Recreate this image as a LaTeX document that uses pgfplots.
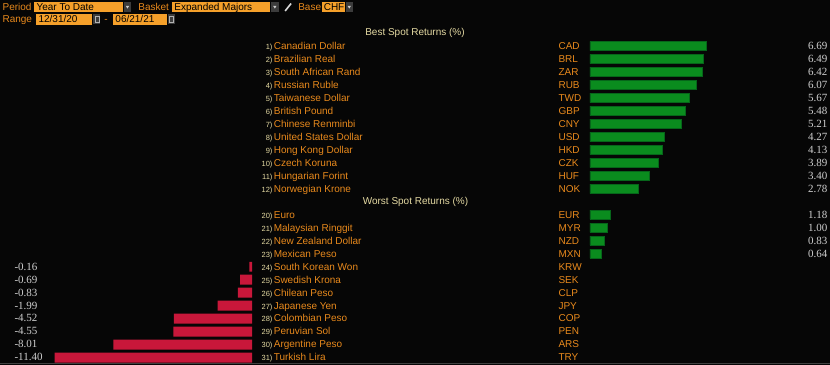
\documentclass[border=0pt]{standalone}
\usepackage{fontspec}
\setmainfont{Liberation Sans}
\newfontfamily\valfont{Liberation Serif}
\usepackage{pgfplots}
\pgfplotsset{compat=1.18}
\definecolor{bg}{HTML}{060606}
\definecolor{bbor}{HTML}{E8891C}
\definecolor{field}{HTML}{F5A02A}
\definecolor{cream}{HTML}{E4D9A2}
\definecolor{valgray}{HTML}{CFCFCF}
\definecolor{gfill}{HTML}{0A8C1E}
\definecolor{gedge}{HTML}{06661A}
\definecolor{rfill}{HTML}{C8173A}
\definecolor{btn}{HTML}{3C3C3C}
\pgfplotsset{px/.style={scale only axis, height=365pt, ymin=0, ymax=365, y dir=reverse,
  hide axis, clip=false, anchor=south west}}
\newcommand{\crow}[4]{%
  \node[anchor=base east, font=\fontsize{7.5}{8}\selectfont, text=cream, inner sep=0] at (axis cs:272.5,#1) {#2)};
  \node[anchor=base west, font=\fontsize{10}{12}\selectfont, text=bbor, inner sep=0] at (axis cs:273.5,#1) {#3};
  \node[anchor=base west, font=\fontsize{10}{12}\selectfont, text=bbor, inner sep=0] at (axis cs:558.5,#1) {#4};}
\newcommand{\pval}[2]{\node[anchor=base east, font=\valfont\fontsize{11}{12}\selectfont, text=valgray, inner sep=0] at (axis cs:828,#1) {#2};}
\newcommand{\nval}[2]{\node[anchor=base west, font=\valfont\fontsize{11}{12}\selectfont, text=valgray, inner sep=0] at (axis cs:14,#1) {#2};}
\newcommand{\lab}[3]{\node[anchor=base west, font=\fontsize{10}{12}\selectfont, text=#3, inner sep=0] at (axis cs:#1) {#2};}
\begin{document}
\begin{tikzpicture}
\fill[bg] (0pt,0pt) rectangle (830pt,365pt);
% positive bars
\begin{axis}[px, at={(590pt,0pt)}, width=240pt, xmin=0, xmax=13.7142857, xbar, bar width=9.4pt, bar shift=0pt]
\addplot[fill=gfill, draw=gedge, line width=0.6pt] coordinates {
(6.69,46) (6.49,59) (6.42,72) (6.07,85) (5.67,98) (5.48,111) (5.21,124) (4.27,137) (4.13,150) (3.89,163) (3.40,176) (2.78,189)};
\addplot[fill=gfill, draw=gedge, line width=0.6pt] coordinates {
(1.18,215) (1.00,228) (0.83,241) (0.64,254)};
\end{axis}
% negative bars
\begin{axis}[px, at={(0pt,0pt)}, width=252pt, xmin=-14.524, xmax=0, xbar, bar width=10pt, bar shift=0pt]
\addplot[fill=rfill, draw=none] coordinates {
(-0.16,267) (-0.69,280) (-0.83,293) (-1.99,306) (-4.52,319) (-4.55,332) (-8.01,345) (-11.40,358)};
\end{axis}
% text layer
\begin{axis}[px, at={(0pt,0pt)}, width=830pt, xmin=0, xmax=830]
% top bar
\fill[field] (axis cs:34,1.5) rectangle (axis cs:123,12.5);
\fill[btn] (axis cs:123.5,1.5) rectangle (axis cs:131,12.5);
\fill[white!80!black] (axis cs:125.6,6) -- (axis cs:128.8,6) -- (axis cs:127.2,8.6) -- cycle;
\fill[field] (axis cs:172,1.5) rectangle (axis cs:270,12.5);
\fill[btn] (axis cs:270.5,1.5) rectangle (axis cs:279,12.5);
\fill[white!80!black] (axis cs:273.1,6) -- (axis cs:276.3,6) -- (axis cs:274.7,8.6) -- cycle;
\draw[white!85!black, line width=1.6pt] (axis cs:285,11) -- (axis cs:291,3.5);
\fill[field] (axis cs:322,1.5) rectangle (axis cs:345,12.5);
\fill[btn] (axis cs:345.5,1.5) rectangle (axis cs:353,12.5);
\fill[white!80!black] (axis cs:347.6,6) -- (axis cs:350.8,6) -- (axis cs:349.2,8.6) -- cycle;
\fill[field] (axis cs:36,14) rectangle (axis cs:92,25);
\fill[btn] (axis cs:93,14.5) rectangle (axis cs:100,24.5);
\draw[white!70!black, line width=0.6pt] (axis cs:94.5,16.5) rectangle (axis cs:98.5,22.5);
\fill[field] (axis cs:113,14) rectangle (axis cs:167,25);
\fill[btn] (axis cs:168,14.5) rectangle (axis cs:175,24.5);
\draw[white!70!black, line width=0.6pt] (axis cs:169.5,16.5) rectangle (axis cs:173.5,22.5);
\lab{2,10.3}{Period}{bbor}
\lab{36,10.3}{Year To Date}{black}
\lab{138,10.3}{Basket}{bbor}
\lab{174,10.3}{Expanded Majors}{black}
\lab{298,10.3}{Base}{bbor}
\lab{323.5,10.3}{CHF}{black}
\lab{2,23}{Range}{bbor}
\lab{38,23}{12/31/20}{black}
\lab{104,23}{-}{bbor}
\lab{115,23}{06/21/21}{black}
% titles
\node[anchor=base, font=\fontsize{10}{12}\selectfont, text=cream, inner sep=0] at (axis cs:415,36) {Best Spot Returns (\%)};
\node[anchor=base, font=\fontsize{10}{12}\selectfont, text=cream, inner sep=0] at (axis cs:415.5,205) {Worst Spot Returns (\%)};
% rows
\crow{49.3}{1}{Canadian Dollar}{CAD}
\crow{62.3}{2}{Brazilian Real}{BRL}
\crow{75.3}{3}{South African Rand}{ZAR}
\crow{88.3}{4}{Russian Ruble}{RUB}
\crow{101.3}{5}{Taiwanese Dollar}{TWD}
\crow{114.3}{6}{British Pound}{GBP}
\crow{127.3}{7}{Chinese Renminbi}{CNY}
\crow{140.3}{8}{United States Dollar}{USD}
\crow{153.3}{9}{Hong Kong Dollar}{HKD}
\crow{166.3}{10}{Czech Koruna}{CZK}
\crow{179.3}{11}{Hungarian Forint}{HUF}
\crow{192.3}{12}{Norwegian Krone}{NOK}
\crow{218.3}{20}{Euro}{EUR}
\crow{231.3}{21}{Malaysian Ringgit}{MYR}
\crow{244.3}{22}{New Zealand Dollar}{NZD}
\crow{257.3}{23}{Mexican Peso}{MXN}
\crow{270.3}{24}{South Korean Won}{KRW}
\crow{283.3}{25}{Swedish Krona}{SEK}
\crow{296.3}{26}{Chilean Peso}{CLP}
\crow{309.3}{27}{Japanese Yen}{JPY}
\crow{322.3}{28}{Colombian Peso}{COP}
\crow{335.3}{29}{Peruvian Sol}{PEN}
\crow{348.3}{30}{Argentine Peso}{ARS}
\crow{361.3}{31}{Turkish Lira}{TRY}
% values
\pval{49.3}{6.69}
\pval{62.3}{6.49}
\pval{75.3}{6.42}
\pval{88.3}{6.07}
\pval{101.3}{5.67}
\pval{114.3}{5.48}
\pval{127.3}{5.21}
\pval{140.3}{4.27}
\pval{153.3}{4.13}
\pval{166.3}{3.89}
\pval{179.3}{3.40}
\pval{192.3}{2.78}
\pval{218.3}{1.18}
\pval{231.3}{1.00}
\pval{244.3}{0.83}
\pval{257.3}{0.64}
\nval{270.3}{-0.16}
\nval{283.3}{-0.69}
\nval{296.3}{-0.83}
\nval{309.3}{-1.99}
\nval{322.3}{-4.52}
\nval{335.3}{-4.55}
\nval{348.3}{-8.01}
\nval{361.3}{-11.40}
\draw[black!75!white, line width=0.8pt] (axis cs:0,364) -- (axis cs:830,364);
\end{axis}
\end{tikzpicture}
\end{document}
